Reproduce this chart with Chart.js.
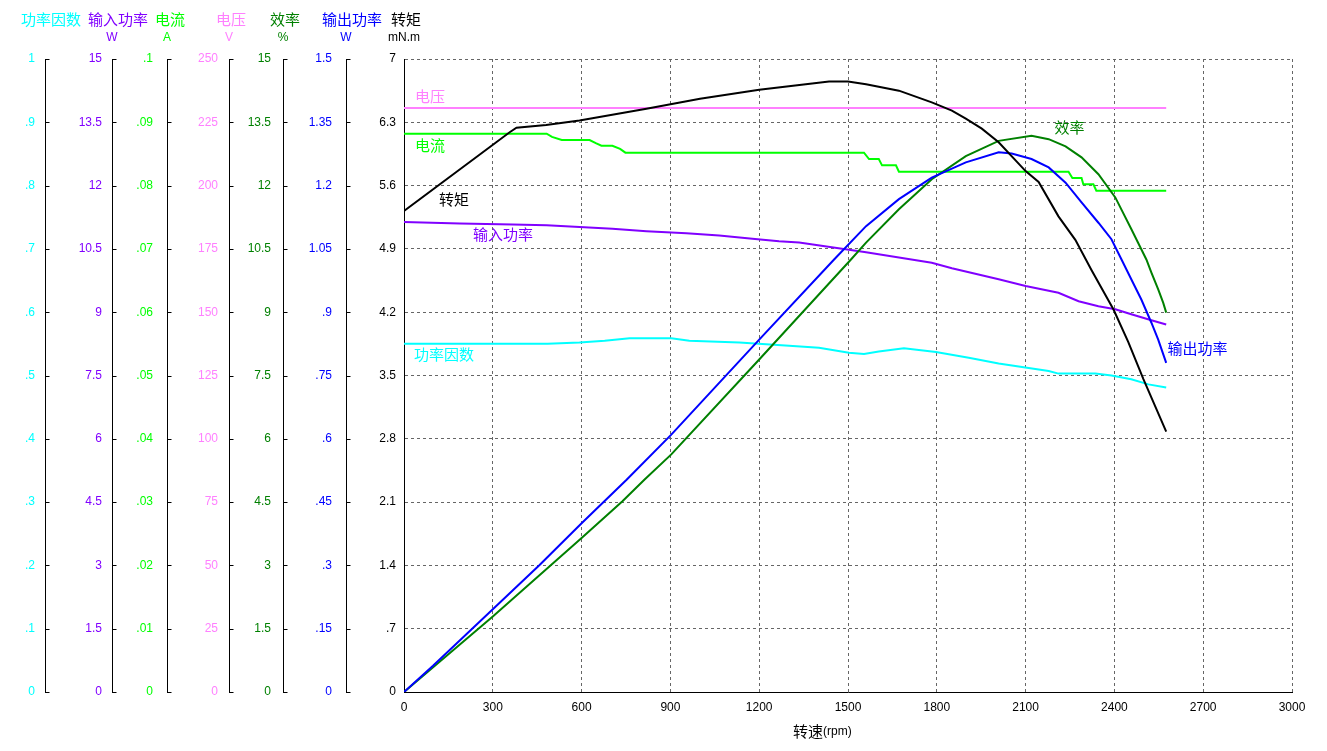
<!DOCTYPE html>
<html>
<head>
<meta charset="utf-8">
<script src="https://cdn.jsdelivr.net/npm/chart.js@4.4.1/dist/chart.umd.min.js"></script>
<style>
  html, body { margin: 0; padding: 0; background: #fff; }
  canvas { display: block; }
</style>
</head>
<body>
<canvas id="motorChart" width="1327" height="751"></canvas>
<script>
// 转速 / 各参数曲线 (值读自原图)
const torqueRpm = [0, 357, 380, 480, 593, 819, 1000, 1200, 1436, 1500, 1561, 1672, 1783, 1851, 1898, 1952, 2009, 2100, 2144, 2211, 2268, 2322, 2397, 2447, 2498, 2575];
const torqueVal = [5.32, 6.19, 6.24, 6.27, 6.32, 6.45, 6.56, 6.66, 6.75, 6.75, 6.72, 6.65, 6.52, 6.43, 6.34, 6.23, 6.08, 5.76, 5.64, 5.26, 5.00, 4.67, 4.23, 3.87, 3.46, 2.88];

const pinRpm = [0, 189, 367, 482, 593, 704, 819, 954, 1065, 1177, 1267, 1335, 1561, 1783, 1851, 2009, 2100, 2211, 2279, 2346, 2403, 2457, 2525, 2575];
const pinVal = [11.14, 11.10, 11.08, 11.06, 11.02, 10.98, 10.92, 10.87, 10.82, 10.74, 10.68, 10.65, 10.42, 10.17, 10.04, 9.78, 9.62, 9.46, 9.26, 9.14, 9.07, 8.95, 8.81, 8.71];

const curRpm = [0, 482, 500, 533, 627, 648, 667, 704, 730, 748, 1554, 1571, 1604, 1615, 1662, 1672, 2245, 2258, 2289, 2295, 2329, 2339, 2575];
const curVal = [0.0882, 0.0882, 0.0877, 0.0872, 0.0872, 0.0867, 0.0863, 0.0863, 0.0858, 0.0852, 0.0852, 0.0842, 0.0842, 0.0832, 0.0832, 0.0822, 0.0822, 0.0812, 0.0812, 0.0802, 0.0802, 0.0792, 0.0792];

const voltRpm = [0, 2575];
const voltVal = [230.6, 230.6];

const pfRpm = [0, 485, 593, 678, 762, 903, 964, 1133, 1301, 1402, 1503, 1554, 1604, 1689, 1797, 1908, 2009, 2178, 2211, 2336, 2390, 2457, 2515, 2575];
const pfVal = [0.550, 0.550, 0.552, 0.555, 0.559, 0.559, 0.555, 0.552, 0.547, 0.544, 0.536, 0.534, 0.538, 0.543, 0.537, 0.528, 0.519, 0.507, 0.503, 0.503, 0.500, 0.494, 0.486, 0.481];

const poutRpm = [0, 98, 300, 458, 600, 752, 903, 1200, 1453, 1561, 1672, 1783, 1898, 2009, 2053, 2120, 2178, 2235, 2289, 2346, 2390, 2424, 2457, 2491, 2525, 2548, 2575];
const poutVal = [0, 0.062, 0.196, 0.301, 0.400, 0.503, 0.610, 0.835, 1.025, 1.104, 1.168, 1.219, 1.255, 1.279, 1.276, 1.263, 1.243, 1.207, 1.160, 1.112, 1.073, 1.025, 0.978, 0.930, 0.875, 0.835, 0.780];

const effRpm = [0, 300, 600, 738, 812, 903, 1200, 1510, 1561, 1672, 1783, 1898, 2009, 2120, 2178, 2235, 2289, 2346, 2403, 2457, 2508, 2525, 2548, 2565, 2575];
const effVal = [0, 1.79, 3.65, 4.52, 5.03, 5.63, 7.88, 10.25, 10.65, 11.44, 12.15, 12.70, 13.06, 13.18, 13.10, 12.93, 12.67, 12.27, 11.72, 10.97, 10.25, 9.94, 9.54, 9.22, 8.99];

// 坐标轴
const axisIds    = ['yPf', 'yPin', 'yCur', 'yVolt', 'yEff', 'yPout', 'yTorque'];
const axisNames  = ['功率因数', '输入功率', '电流', '电压', '效率', '输出功率', '转矩'];
const axisUnits  = ['', 'W', 'A', 'V', '%', 'W', 'mN.m'];
const axisMax    = [1, 15, 0.1, 250, 15, 1.5, 7];
const rpmMax = 3000;
const rpmStep = 300;

const LATIN = '"Liberation Sans", Arial, sans-serif';
const CJK = '"Noto Sans CJK SC", "Noto Sans", sans-serif';

const colors = {
  yPf: '#00ffff',
  yPin: '#8000ff',
  yCur: '#00ff00',
  yVolt: '#ff80ff',
  yEff: '#008000',
  yPout: '#0000ff',
  yTorque: '#000000'
};

Chart.defaults.font.family = LATIN;
Chart.defaults.font.size = 12;

function fmt(v) {
  return parseFloat(v.toFixed(4)).toString().replace(/^0\./, '.');
}

function pts(xs, ys) {
  return xs.map((x, i) => ({ x: x, y: ys[i] }));
}

function series(label, axis, xs, ys) {
  return {
    label: label,
    data: pts(xs, ys),
    yAxisID: axis,
    borderColor: colors[axis],
    borderWidth: 2,
    pointRadius: 0,
    tension: 0,
    fill: false
  };
}

const widths  = [45, 67, 55, 62, 54, 63, 58];
const pads    = [10, 10, 14, 11, 12, 14, 8];
const titleDx = [6, 6, 3, 2, 2, 6, 2];

const scales = {
  x: {
    type: 'linear',
    min: 0,
    max: rpmMax,
    ticks: { stepSize: rpmStep, color: '#000', padding: 8, maxRotation: 0, callback: (v) => String(v) },
    grid: { color: '#666', drawTicks: false },
    border: { color: '#000', width: 1, dash: [3, 3] },
    afterFit(s) { s.height = 59; s.paddingLeft = 0; s.paddingRight = 0; }
  }
};

axisIds.forEach((id, i) => {
  const main = id === 'yTorque';
  scales[id] = {
    type: 'linear',
    position: 'left',
    weight: 70 - i * 10,
    min: 0,
    max: axisMax[i],
    ticks: { count: 11, color: colors[id], padding: pads[i], callback: fmt },
    grid: main ? { color: '#666', drawTicks: false } : { drawOnChartArea: false, drawTicks: false },
    border: { color: '#000', width: 1, dash: main ? [3, 3] : [] },
    afterFit(s) { s.width = widths[i]; s.paddingTop = 0; s.paddingBottom = 0; }
  };
});

// 图中曲线名称 (以转矩坐标定位)
const curveLabels = [
  { text: '电压', axis: 'yVolt', rpm: 37, at: 6.59 },
  { text: '电流', axis: 'yCur', rpm: 37, at: 6.05 },
  { text: '转矩', axis: 'yTorque', rpm: 118, at: 5.45 },
  { text: '输入功率', axis: 'yPin', rpm: 233, at: 5.06 },
  { text: '功率因数', axis: 'yPf', rpm: 34, at: 3.74 },
  { text: '效率', axis: 'yEff', rpm: 2198, at: 6.25 },
  { text: '输出功率', axis: 'yPout', rpm: 2579, at: 3.80 }
];

const decor = {
  id: 'decor',
  afterDraw(chart) {
    const ctx = chart.ctx;
    const area = chart.chartArea;
    const xs = chart.scales.x;
    const ts = chart.scales.yTorque;
    ctx.save();

    // 侧轴刻度短线
    ctx.strokeStyle = '#000';
    ctx.lineWidth = 1;
    axisIds.forEach((id) => {
      if (id === 'yTorque') return;
      const s = chart.scales[id];
      const x0 = Math.round(s.right) + 0.5;
      s.ticks.forEach((t, k) => {
        const y = Math.round(s.getPixelForTick(k)) + 0.5;
        ctx.beginPath();
        ctx.moveTo(x0, y);
        ctx.lineTo(x0 + 4, y);
        ctx.stroke();
      });
    });

    // 轴名与单位
    ctx.textAlign = 'center';
    ctx.textBaseline = 'middle';
    axisIds.forEach((id, i) => {
      const s = chart.scales[id];
      ctx.fillStyle = colors[id];
      ctx.font = '15px ' + CJK;
      ctx.fillText(axisNames[i], s.right + titleDx[i], 19);
      ctx.font = '12px ' + LATIN;
      if (axisUnits[i]) ctx.fillText(axisUnits[i], s.right, 38);
    });

    // 曲线标注
    ctx.textAlign = 'left';
    ctx.font = '15px ' + CJK;
    curveLabels.forEach((l) => {
      ctx.fillStyle = colors[l.axis];
      ctx.fillText(l.text, xs.getPixelForValue(l.rpm), ts.getPixelForValue(l.at));
    });

    // x 轴标题
    const cx = (area.left + area.right) / 2 - 55;
    ctx.fillStyle = '#000';
    ctx.font = '15px ' + CJK;
    ctx.fillText('转速', cx, 731);
    const w = ctx.measureText('转速').width;
    ctx.font = '12px ' + LATIN;
    ctx.fillText('(rpm)', cx + w, 732);

    ctx.restore();
  }
};

new Chart(document.getElementById('motorChart'), {
  type: 'line',
  data: {
    datasets: [
      series('转矩', 'yTorque', torqueRpm, torqueVal),
      series('输出功率', 'yPout', poutRpm, poutVal),
      series('效率', 'yEff', effRpm, effVal),
      series('输入功率', 'yPin', pinRpm, pinVal),
      series('功率因数', 'yPf', pfRpm, pfVal),
      series('电流', 'yCur', curRpm, curVal),
      series('电压', 'yVolt', voltRpm, voltVal)
    ]
  },
  options: {
    responsive: false,
    animation: false,
    events: [],
    devicePixelRatio: 1,
    layout: { padding: { left: 0, top: 59, right: 35, bottom: 0 } },
    plugins: {
      legend: { display: false },
      tooltip: { enabled: false }
    },
    scales: scales
  },
  plugins: [decor]
});
</script>
</body>
</html>
